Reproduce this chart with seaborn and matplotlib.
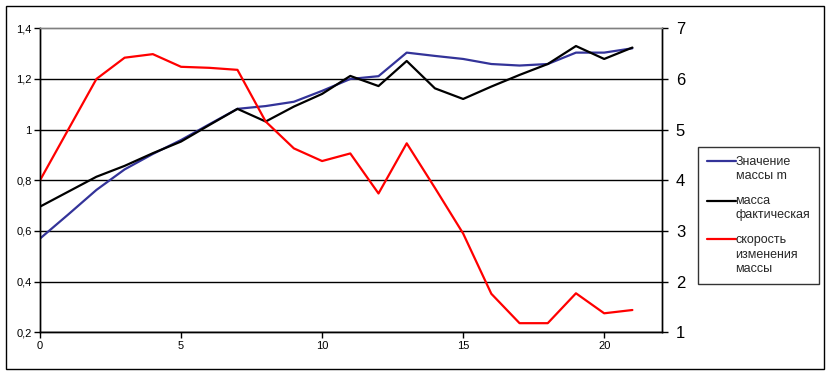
import matplotlib
matplotlib.use("Agg")
import matplotlib.pyplot as plt
import seaborn as sns
import pandas as pd
from matplotlib.patches import Rectangle
from matplotlib.legend_handler import HandlerLine2D

sns.set_theme(style="white")
plt.rcParams['font.family'] = ['Liberation Sans', 'DejaVu Sans']

x = list(range(22))
mass_m = [0.570, 0.665, 0.762, 0.843, 0.904, 0.959, 1.021, 1.082, 1.093, 1.110, 1.153,
          1.200, 1.211, 1.304, 1.291, 1.279, 1.259, 1.253, 1.259, 1.304, 1.304, 1.321]
mass_fact = [0.696, 0.755, 0.814, 0.857, 0.907, 0.953, 1.018, 1.082, 1.032, 1.091, 1.141,
             1.212, 1.172, 1.271, 1.163, 1.121, 1.170, 1.216, 1.259, 1.330, 1.279, 1.324]
rate = [4.00, 5.00, 6.00, 6.42, 6.49, 6.24, 6.22, 6.18, 5.16, 4.63, 4.38,
        4.53, 3.74, 4.73, 3.85, 2.95, 1.76, 1.18, 1.18, 1.77, 1.375, 1.44]

labels = ["Значение\nмассы m", "масса\nфактическая", "скорость\nизменения\nмассы"]
left_ticks = [0.2, 0.4, 0.6, 0.8, 1.0, 1.2, 1.4]
left_ticklabels = ["0,2", "0,4", "0,6", "0,8", "1", "1,2", "1,4"]
right_ticks = [1, 2, 3, 4, 5, 6, 7]
x_ticks = [0, 5, 10, 15, 20]

df = pd.DataFrame({"x": x, "m": mass_m, "f": mass_fact, "r": rate})

LEG_FS = 9
LEG_LS = 1.25


class TopHandler(HandlerLine2D):
    def __init__(self, nlines, **kw):
        super().__init__(**kw)
        self.nlines = nlines

    def create_artists(self, legend, orig_handle, xdescent, ydescent, width, height, fontsize, trans):
        arts = super().create_artists(legend, orig_handle, xdescent, ydescent, width, height, fontsize, trans)
        off = (self.nlines - 1) / 2 * fontsize * LEG_LS
        for a in arts:
            yd = a.get_ydata()
            a.set_ydata([v + off for v in yd])
        return arts


fig = plt.figure(figsize=(8.31, 3.75), dpi=100)
ax = fig.add_axes([40/831, 1 - 332.3/375, (662 - 40)/831, (332.3 - 28.3)/375])
ax2 = ax.twinx()

sns.lineplot(data=df, x="x", y="m", ax=ax, color="#333399", linewidth=1.6, label=labels[0], legend=False)
sns.lineplot(data=df, x="x", y="f", ax=ax, color="black", linewidth=1.6, label=labels[1], legend=False)
sns.lineplot(data=df, x="x", y="r", ax=ax2, color="#ff0000", linewidth=1.6, label=labels[2], legend=False)

ax.set_xlim(0, 22.05)
ax.set_ylim(0.2, 1.4)
ax2.set_ylim(1, 7)
ax.set_xlabel("")
ax.set_ylabel("")
ax2.set_ylabel("")

ax.set_yticks(left_ticks)
ax.set_yticklabels(left_ticklabels, fontsize=8)
ax.set_xticks(x_ticks)
ax.set_xticklabels([str(v) for v in x_ticks], fontsize=8)
ax2.set_yticks(right_ticks)
ax2.set_yticklabels([str(v) for v in right_ticks], fontsize=12)

for a in (ax, ax2):
    a.tick_params(axis='both', direction='out', length=4, width=1, color='black', pad=2, colors='black')
ax.tick_params(axis='x', bottom=True, length=4)
ax.tick_params(axis='y', left=True)
ax2.tick_params(axis='y', right=True, pad=6)

ax.yaxis.grid(True, color='black', linewidth=1)
ax.xaxis.grid(False)
ax.set_axisbelow(True)
ax.yaxis.get_major_ticks()[-1].gridline.set_visible(False)

for a in (ax, ax2):
    a.spines['left'].set_color('black')
    a.spines['bottom'].set_color('black')
    a.spines['right'].set_color('black')
    a.spines['top'].set_color('#808080')
    for s in a.spines.values():
        s.set_linewidth(1)
ax.patch.set_visible(False)

h1, l1 = ax.get_legend_handles_labels()
h2, l2 = ax2.get_legend_handles_labels()
handles = h1 + h2
hmap = {h: TopHandler(lab.count("\n") + 1) for h, lab in zip(handles, l1 + l2)}
leg = fig.legend(handles, l1 + l2, loc='upper left', bbox_to_anchor=(698/831, 1 - 147/375),
                 frameon=True, fancybox=False, fontsize=LEG_FS, handlelength=2.3, handletextpad=0.0,
                 borderpad=0.7, labelspacing=1.05, borderaxespad=0, handler_map=hmap)
leg.get_frame().set_edgecolor('black')
leg.get_frame().set_linewidth(1)
for t in leg.get_texts():
    t.set_linespacing(LEG_LS)

fig.patches.append(Rectangle((5.5/831, 1 - 369/375), (824 - 5.5)/831, (369 - 5.5)/375,
                             transform=fig.transFigure, fill=False, edgecolor='black', linewidth=1))

fig.savefig("out.png", dpi=100)
